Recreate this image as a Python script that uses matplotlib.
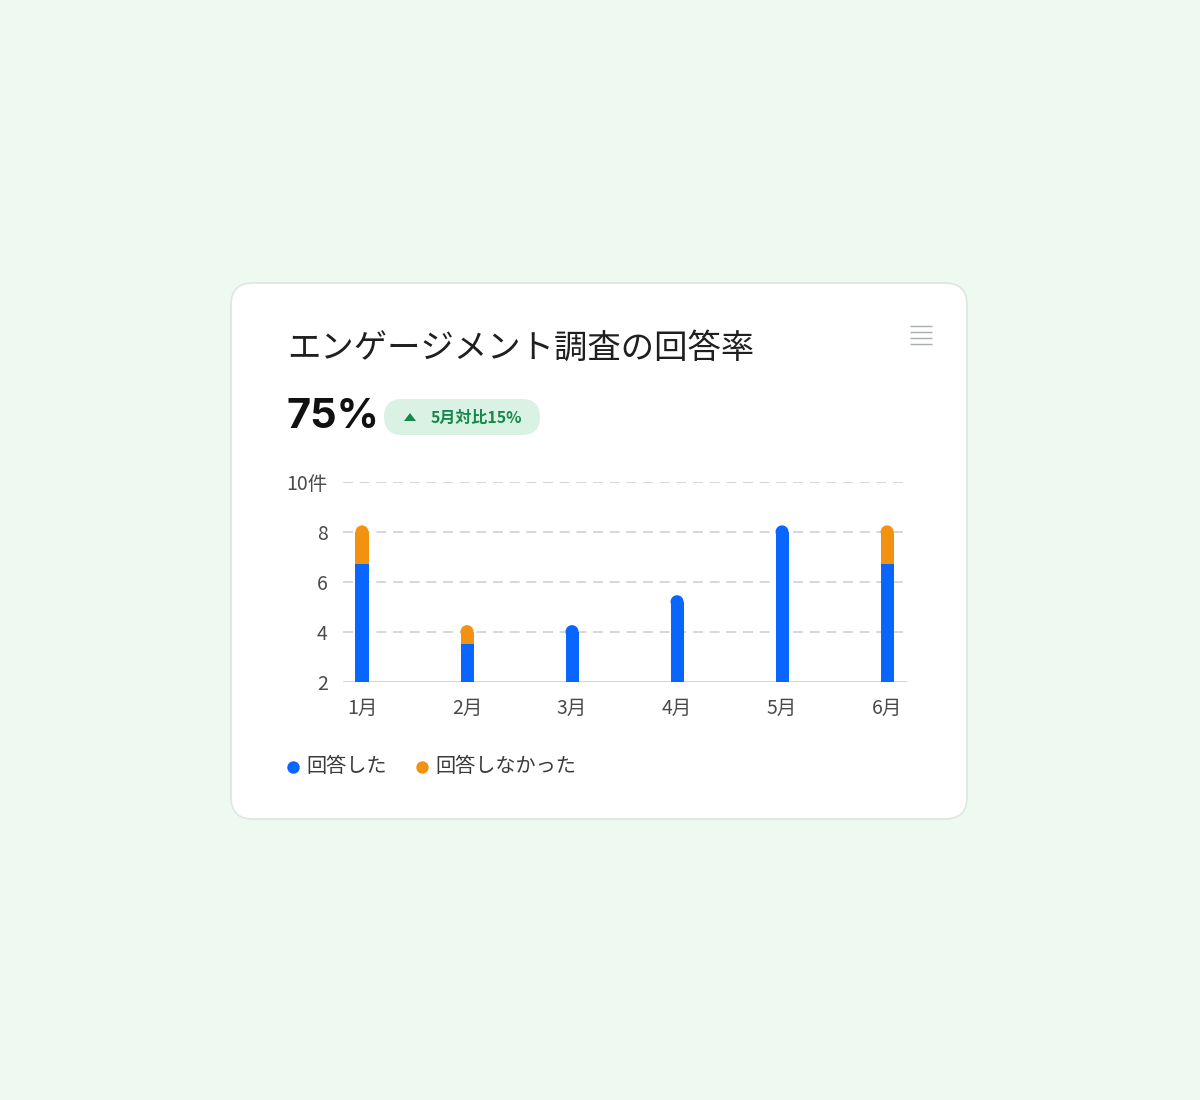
import matplotlib
matplotlib.use('Agg')
import matplotlib.pyplot as plt
from matplotlib.patches import FancyBboxPatch, Polygon
import numpy as np

plt.rcParams['font.family'] = ['Noto Sans CJK JP', 'DejaVu Sans']

# data
months = ['1月', '2月', '3月', '4月', '5月', '6月']
answered = [6.7, 3.5, 4.0, 5.2, 8.0, 6.7]
not_answered = [1.3, 0.5, 0.0, 0.0, 0.0, 1.3]
yticks = [2, 4, 6, 8, 10]
ytick_labels = ['2', '4', '6', '8', '10件']

title = 'エンゲージメント調査の回答率'
kpi = '75%'
badge = '5月対比15%'
legend_labels = ['回答した', '回答しなかった']

blue = '#0866FF'
orange = '#F39210'
bg = '#EEF9F2'

W, H = 1200, 1100
fig = plt.figure(figsize=(W / 100, H / 100), dpi=100, facecolor=bg)

# background axes in pixel coordinates
bgax = fig.add_axes([0, 0, 1, 1])
bgax.set_xlim(0, W)
bgax.set_ylim(H, 0)
bgax.axis('off')
bgax.set_facecolor(bg)

card = FancyBboxPatch((231, 283), 736, 536, boxstyle='round,pad=0,rounding_size=22',
                      facecolor='white', edgecolor='#DDE6E0', linewidth=1.2)
bgax.add_patch(card)

bgax.text(287, 348, title, fontsize=24, color='#1F1F1F', va='center', ha='left')
bgax.text(286, 417, kpi, fontsize=30, fontweight='bold', family=['Inter', 'DejaVu Sans'],
          color='#111111', va='center', ha='left')

pill = FancyBboxPatch((384, 399), 156, 36, boxstyle='round,pad=0,rounding_size=18',
                      facecolor='#DAF2E3', edgecolor='none')
bgax.add_patch(pill)
bgax.add_patch(Polygon([[404, 421], [416, 421], [410, 413]], closed=True,
                       facecolor='#17884A', edgecolor='none'))
bgax.text(431, 418, badge, fontsize=11.5, fontweight='bold', color='#17884A',
          va='center', ha='left')

# menu icon
for yy in [326, 332, 338, 344]:
    bgax.plot([910, 932], [yy, yy], color='#A8ADB2', lw=1.0, solid_capstyle='butt')

# legend
bgax.scatter([293], [767], s=80, color=blue, zorder=3, linewidths=0)
bgax.text(306, 766, legend_labels[0], fontsize=14.5, color='#3A3A3A', va='center', ha='left')
bgax.scatter([422], [767], s=80, color=orange, zorder=3, linewidths=0)
bgax.text(435, 766, legend_labels[1], fontsize=14.5, color='#3A3A3A', va='center', ha='left')

# chart axes
ax = fig.add_axes([343 / W, 1 - 681.5 / H, (907 - 343) / W, (681.5 - 482) / H])
ax.set_facecolor('none')
ax.set_xlim(-0.181, 5.19)
ax.set_ylim(2, 10)

x = np.arange(len(months))
bw = 0.124
ans = np.array(answered)
non = np.array(not_answered)
ax.bar(x, ans - 2, bottom=2, width=bw, color=blue, zorder=3, linewidth=0)
ax.bar(x, non, bottom=ans, width=bw, color=orange, zorder=3, linewidth=0)

# rounded caps
cap_d = 13 * 72 / 100
cap_colors = [orange if n > 0 else blue for n in not_answered]
ax.scatter(x, ans + non, s=cap_d ** 2, marker='o', c=cap_colors, zorder=4, linewidths=0)

for yv in [4, 6, 8, 10]:
    ax.axhline(yv, color='#CDD2D7', lw=1.2, ls=(0, (6, 4)), zorder=1)
ax.axhline(2, color='#CAD3DC', lw=1.3, zorder=2)

for s in ax.spines.values():
    s.set_visible(False)
ax.set_yticks(yticks)
ax.set_yticklabels(ytick_labels)
ax.set_xticks(x)
ax.set_xticklabels(months)
ax.tick_params(axis='both', length=0, labelsize=14, colors='#4A4A4A')
ax.tick_params(axis='y', pad=11)
ax.tick_params(axis='x', pad=12)

fig.savefig('out.png', dpi=100, facecolor=bg)
